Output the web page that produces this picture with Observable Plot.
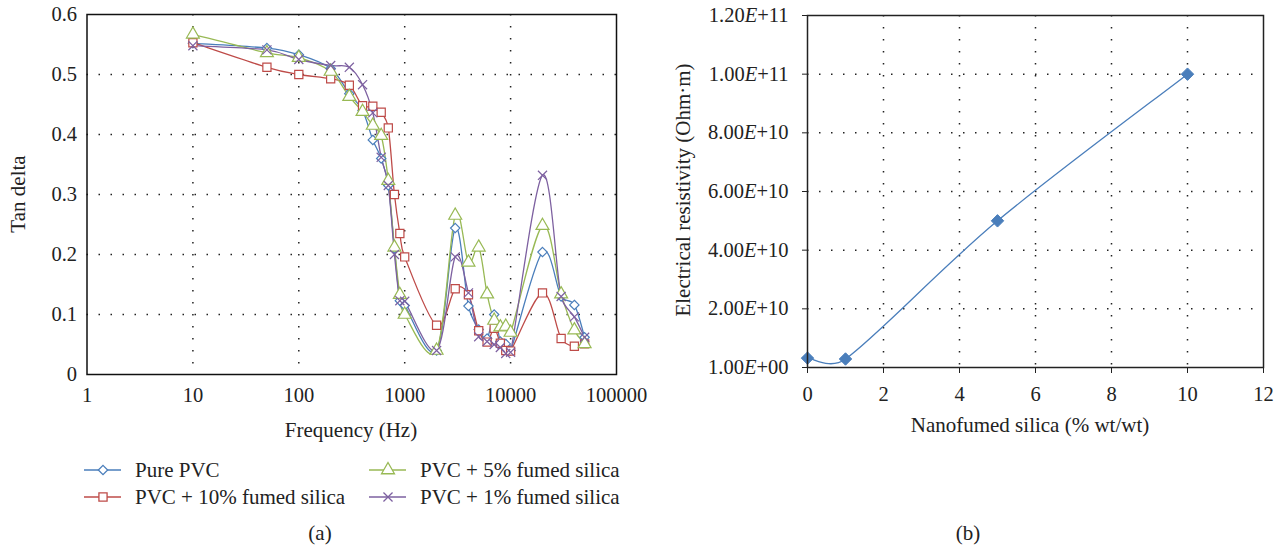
<!DOCTYPE html>
<html><head><meta charset="utf-8">
<script src="https://cdn.jsdelivr.net/npm/d3@7"></script>
<script src="https://cdn.jsdelivr.net/npm/@observablehq/plot@0.6"></script>
<style>
body{margin:0;background:#fff;}
#fig{position:relative;width:1280px;height:548px;font-family:"Liberation Serif","Times New Roman","DejaVu Serif",serif;color:#222;overflow:hidden;}
.abs{position:absolute;white-space:nowrap;font-size:21px;line-height:1;transform:translate(-50%,-50%);}
.leg{position:absolute;white-space:nowrap;font-size:21px;line-height:1;transform:translate(0,-50%);}
.rot{transform:translate(-50%,-50%) rotate(-90deg);}
svg{overflow:visible}
</style></head><body><div id="fig"></div>
<script>
// ---------- Data: panel (a) ----------
const frequencies = [10,50,100,200,300,400,500,600,700,800,900,1000,2000,3000,4000,5000,6000,7000,8000,9000,10000,20000,30000,40000,50000];
const purePVC   = [0.552,0.544,0.533,0.510,0.468,0.440,0.391,0.360,0.315,0.210,0.123,0.115,0.040,0.244,0.114,0.075,0.060,0.100,0.055,0.051,0.040,0.204,0.130,0.116,0.062];
const pvc10     = [0.553,0.512,0.500,0.493,0.482,0.448,0.447,0.437,0.411,0.300,0.235,0.196,0.082,0.143,0.133,0.073,0.054,0.077,0.052,0.040,0.039,0.136,0.060,0.047,0.051];
const pvc5      = [0.567,0.536,0.528,0.505,0.463,0.438,0.415,0.398,0.323,0.212,0.133,0.100,0.040,0.265,0.187,0.212,0.134,0.090,0.079,0.080,0.070,0.248,0.134,0.074,0.051];
const pvc1      = [0.548,0.541,0.525,0.515,0.512,0.483,0.436,0.362,0.315,0.200,0.123,0.122,0.040,0.196,0.136,0.063,0.055,0.050,0.045,0.035,0.037,0.332,0.130,0.096,0.062];
const seriesNames = ["Pure PVC","PVC + 10% fumed silica","PVC + 5% fumed silica","PVC + 1% fumed silica"];
const xTicksA = [1,10,100,1000,10000,100000];
const yTicksA = [0,0.1,0.2,0.3,0.4,0.5,0.6];

// ---------- Data: panel (b) ----------
const silica = [0,1,5,10];
const resistivity = [3.2e9,2.9e9,5.0e10,1.0e11];
const xTicksB = [0,2,4,6,8,10,12];
const yTicksB = [0,2e10,4e10,6e10,8e10,1e11,1.2e11];

const colors = ["#4A7EBB","#BE4B48","#98B954","#7D60A0"];
const symbols = ["diamond2","square","triangle","times"];
const radii = [4.2,4.6,4.8,4.2];
const allSeries = [purePVC,pvc10,pvc5,pvc1];

// Spreadsheet-style smoothed line (Bezier, arms limited to half a segment)
function SmoothCurve(context){ this._context = context; }
SmoothCurve.prototype = {
  areaStart(){}, areaEnd(){},
  lineStart(){ this._pts = []; },
  point(x,y){ this._pts.push([+x,+y]); },
  lineEnd(){
    const p = this._pts, c = this._context, n = p.length;
    if (!n) return;
    c.moveTo(p[0][0], p[0][1]);
    const dist = (a,b) => Math.hypot(a[0]-b[0], a[1]-b[1]);
    for (let i = 0; i < n-1; i++){
      const P0 = p[Math.max(i-1,0)], P1 = p[i], P2 = p[i+1], P3 = p[Math.min(i+2,n-1)];
      const d12 = dist(P1,P2), d02 = dist(P0,P2), d13 = dist(P1,P3);
      const f1 = (d02/6 < d12/2) ? 1/6 : d12/(2*d02 || 1);
      const f2 = (d13/6 < d12/2) ? 1/6 : d12/(2*d13 || 1);
      c.bezierCurveTo(P1[0]+(P2[0]-P0[0])*f1, P1[1]+(P2[1]-P0[1])*f1,
                      P2[0]-(P3[0]-P1[0])*f2, P2[1]-(P3[1]-P1[1])*f2,
                      P2[0], P2[1]);
    }
  }
};
const curveSmooth = ctx => new SmoothCurve(ctx);

const fig = document.getElementById("fig");
const FONT = '"Liberation Serif","Times New Roman","DejaVu Serif",serif';
const dotted = {stroke:"#222", strokeDasharray:"1.5,10.5", strokeWidth:1.5};

// ---------- Panel (a) ----------
const marksA = [
  Plot.ruleY(yTicksA.slice(1,-1), dotted),
  Plot.ruleX(xTicksA.slice(1,-1), dotted),
];
allSeries.forEach((vals,i)=>{
  const data = frequencies.map((f,j)=>({f, v: vals[j]}));
  marksA.push(Plot.line(data,{x:"f",y:"v",stroke:colors[i],strokeWidth:1.3,curve:curveSmooth}));
});
allSeries.forEach((vals,i)=>{
  const data = frequencies.map((f,j)=>({f, v: vals[j]}));
  marksA.push(Plot.dot(data,{x:"f",y:"v",symbol:()=>symbols[i],r:radii[i],stroke:colors[i],fill: symbols[i]==="times"?"none":"white",strokeWidth:1.2}));
});
marksA.push(Plot.frame({stroke:"#111",strokeWidth:1.5}));
marksA.push(Plot.axisX({ticks:xTicksA,tickFormat:d=>String(d),tickSize:0,tickPadding:13,label:null}));
marksA.push(Plot.axisY({ticks:yTicksA,tickFormat:d=>d===0?"0":d.toFixed(1),tickSize:0,tickPadding:10,label:null}));

const chartA = Plot.plot({
  width:640,height:450,
  marginLeft:86.5,marginRight:24,marginTop:14,marginBottom:76,
  x:{type:"log",domain:[1,100000]},
  y:{domain:[0,0.6]},
  symbol:{type:"identity"},
  style:{fontFamily:FONT,fontSize:"20.5px",color:"#222",background:"transparent",overflow:"visible"},
  marks:marksA
});
chartA.style.position="absolute";chartA.style.left="0px";chartA.style.top="0px";
fig.appendChild(chartA);

// ---------- Panel (b) ----------
const dataB = silica.map((s,i)=>({s, r: resistivity[i]}));
const fmtB = d => d===0 ? "1.00E+00" : d.toExponential(2).toUpperCase();
const chartB = Plot.plot({
  width:640,height:450,
  marginLeft:167,marginRight:17,marginTop:15,marginBottom:83,
  x:{domain:[0,12]},
  y:{domain:[0,1.2e11]},
  style:{fontFamily:FONT,fontSize:"20.5px",color:"#222",background:"transparent",overflow:"visible"},
  marks:[
    Plot.ruleY(yTicksB.slice(1,-1), dotted),
    Plot.ruleX(xTicksB.slice(1,-1), dotted),
    Plot.line(dataB,{x:"s",y:"r",stroke:"#4A7EBB",strokeWidth:1.3,curve:curveSmooth}),
    Plot.dot(dataB,{x:"s",y:"r",symbol:"diamond2",r:5.6,fill:"#4A7EBB",stroke:"#4A7EBB",strokeWidth:1}),
    Plot.frame({stroke:"#222",strokeWidth:1.5}),
    Plot.axisX({ticks:xTicksB,tickFormat:d=>String(d),tickSize:6,tickPadding:13,label:null,stroke:"#222"}),
    Plot.axisY({ticks:yTicksB,tickFormat:fmtB,tickSize:5,tickPadding:14,label:null,stroke:"#222"})
  ]
});
chartB.style.position="absolute";chartB.style.left="640px";chartB.style.top="0px";
fig.appendChild(chartB);
// italic E in tick labels
d3.select(chartB).selectAll('g[aria-label="y-axis tick label"] text').each(function(){
  const t = this.textContent; const parts = t.split("E");
  const sel = d3.select(this); sel.text("");
  sel.append("tspan").text(parts[0]);
  sel.append("tspan").attr("font-style","italic").text("E");
  sel.append("tspan").text(parts[1]);
});

// ---------- Titles ----------
function label(text,x,y,cls){const d=document.createElement("div");d.className=cls||"abs";d.style.left=x+"px";d.style.top=y+"px";d.textContent=text;fig.appendChild(d);return d;}
label("Tan delta",18,194,"abs rot");
label("Frequency (Hz)",351,430);
label("Electrical resistivity (Ohm·m)",683,190,"abs rot");
label("Nanofumed silica (% wt/wt)",1030,425);
label("(a)",320,533);
label("(b)",968,533);

// ---------- Legend (a) ----------
const legPos = [[103,470],[103,497],[388,470],[388,497]];
const legText = [[135,470],[135,497],[420,470],[420,497]];
const legSvg = d3.select(fig).append("svg").attr("width",1280).attr("height",548)
  .style("position","absolute").style("left","0px").style("top","0px");
const d3sym = {diamond2:d3.symbolDiamond2,square:d3.symbolSquare,triangle:d3.symbolTriangle,times:d3.symbolTimes};
seriesNames.forEach((name,i)=>{
  const [cx,cy]=legPos[i];
  legSvg.append("line").attr("x1",cx-19).attr("x2",cx+18).attr("y1",cy).attr("y2",cy).attr("stroke",colors[i]).attr("stroke-width",1.5);
  legSvg.append("path").attr("transform",`translate(${cx},${cy})`)
    .attr("d",d3.symbol(d3sym[symbols[i]], Math.PI*radii[i]*radii[i])())
    .attr("fill",symbols[i]==="times"?"none":"white").attr("stroke",colors[i]).attr("stroke-width",1.3);
  label(name,legText[i][0],legText[i][1],"leg");
});
</script>
</body></html>
